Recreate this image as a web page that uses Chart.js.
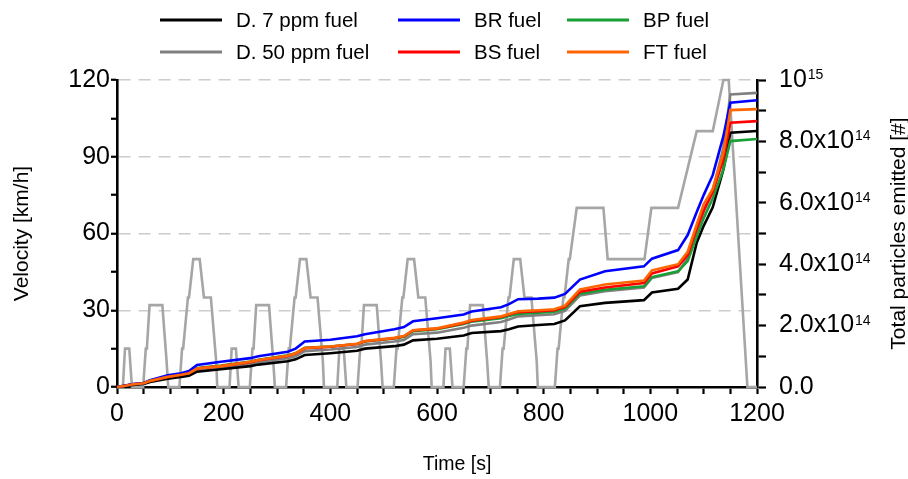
<!DOCTYPE html>
<html>
<head>
<meta charset="utf-8">
<script src="https://cdn.jsdelivr.net/npm/chart.js@4.4.1/dist/chart.umd.min.js"></script>
<style>
  html, body { margin: 0; padding: 0; background: #fff; }
  #wrap { width: 908px; height: 479px; }
</style>
</head>
<body>
<div id="wrap"><canvas id="chart" width="908" height="479"></canvas></div>
<script>
// driving cycle speed trace, km/h (left axis)
const velocityTime = [
  0, 11, 15, 23, 28, 49, 54, 56, 61, 85, 93, 96, 117, 122, 124, 133, 135, 143, 155, 163, 176, 186, 188,
  211, 215, 223, 228, 249, 254, 256, 261, 285, 293, 296, 317, 322, 324, 333, 335, 343, 355, 363, 376, 386, 388,
  413, 417, 425, 430, 451, 456, 458, 463, 487, 495, 498, 519, 524, 526, 535, 537, 545, 557, 565, 578, 588, 590,
  612, 616, 624, 629, 650, 655, 657, 662, 686, 694, 697, 718, 723, 725, 734, 736, 744, 756, 764, 777, 787, 789,
  821, 826, 828, 837, 839, 847, 849, 862, 912, 920, 989, 1002, 1052, 1087, 1117, 1137, 1147, 1182, 1200
];
const velocitySpeed = [
  0, 0, 15, 15, 0, 0, 15, 15, 32, 32, 10, 0, 0, 15, 15, 35, 35, 50, 50, 35, 35, 10, 0,
  0, 15, 15, 0, 0, 15, 15, 32, 32, 10, 0, 0, 15, 15, 35, 35, 50, 50, 35, 35, 10, 0,
  0, 15, 15, 0, 0, 15, 15, 32, 32, 10, 0, 0, 15, 15, 35, 35, 50, 50, 35, 35, 10, 0,
  0, 15, 15, 0, 0, 15, 15, 32, 32, 10, 0, 0, 15, 15, 35, 35, 50, 50, 35, 35, 10, 0,
  0, 15, 15, 35, 35, 50, 50, 70, 70, 50, 50, 70, 70, 100, 100, 120, 120, 0, 0
];

// cumulative particle number, units of 10^14 (right axis)
const particleTime = [
  0, 15, 30, 50, 62, 95, 120, 135, 150, 195, 250, 265, 320, 335, 352, 400, 450, 465, 520, 538, 555,
  600, 650, 665, 720, 735, 752, 790, 820, 840, 868, 915, 988, 1003, 1052, 1070, 1087, 1100, 1117, 1137, 1150, 1200
];
const diesel7 = [
  0, 0.03, 0.07, 0.1, 0.16, 0.27, 0.33, 0.37, 0.5, 0.58, 0.68, 0.73, 0.84, 0.9, 1.04, 1.1, 1.18, 1.25, 1.33, 1.38, 1.52,
  1.57, 1.68, 1.76, 1.82, 1.88, 1.97, 2.02, 2.05, 2.17, 2.63, 2.74, 2.83, 3.08, 3.2, 3.5, 4.7, 5.25, 5.85, 7.09, 8.28, 8.34
];
const brFuel = [
  0, 0.05, 0.1, 0.13, 0.22, 0.38, 0.45, 0.52, 0.72, 0.82, 0.94, 1.0, 1.15, 1.25, 1.48, 1.54, 1.65, 1.72, 1.88, 1.95, 2.14,
  2.24, 2.36, 2.46, 2.6, 2.7, 2.86, 2.88, 2.91, 3.03, 3.5, 3.77, 3.93, 4.18, 4.46, 4.95, 5.7, 6.25, 6.9, 8.17, 9.26, 9.34
];
const bpFuel = [
  0, 0.04, 0.09, 0.12, 0.21, 0.35, 0.42, 0.47, 0.62, 0.7, 0.83, 0.89, 1.03, 1.1, 1.28, 1.32, 1.4, 1.48, 1.58, 1.63, 1.82,
  1.88, 2.05, 2.13, 2.24, 2.31, 2.38, 2.42, 2.45, 2.56, 3.04, 3.17, 3.28, 3.58, 3.77, 4.1, 4.9, 5.5, 6.15, 7.09, 8.01, 8.08
];
const diesel50 = [
  0, 0.04, 0.08, 0.11, 0.18, 0.3, 0.37, 0.41, 0.56, 0.63, 0.76, 0.81, 0.94, 1.0, 1.17, 1.22, 1.3, 1.38, 1.48, 1.53, 1.72,
  1.77, 1.93, 2.0, 2.12, 2.2, 2.3, 2.34, 2.37, 2.48, 2.98, 3.12, 3.24, 3.55, 3.74, 4.2, 5.1, 5.7, 6.4, 7.8, 9.53, 9.58
];
const bsFuel = [
  0, 0.04, 0.09, 0.12, 0.2, 0.33, 0.4, 0.45, 0.6, 0.68, 0.81, 0.87, 1.01, 1.09, 1.26, 1.31, 1.4, 1.49, 1.59, 1.65, 1.84,
  1.9, 2.08, 2.16, 2.28, 2.36, 2.44, 2.47, 2.5, 2.61, 3.1, 3.24, 3.39, 3.7, 3.93, 4.3, 5.15, 5.75, 6.35, 7.41, 8.61, 8.66
];
const ftFuel = [
  0, 0.04, 0.09, 0.12, 0.2, 0.33, 0.4, 0.45, 0.6, 0.68, 0.82, 0.88, 1.02, 1.1, 1.27, 1.32, 1.41, 1.5, 1.6, 1.66, 1.85,
  1.91, 2.1, 2.18, 2.3, 2.38, 2.47, 2.5, 2.53, 2.65, 3.18, 3.34, 3.47, 3.8, 4.0, 4.4, 5.3, 5.95, 6.45, 7.63, 9.02, 9.05
];

const FONT = '"Liberation Sans", Arial, sans-serif';
const TICK_SIZE = 25;

const toPoints = (xs, ys) => xs.map((x, i) => ({ x: x, y: ys[i] }));

function fuelSet(label, values, color, order) {
  return {
    label: label,
    data: toPoints(particleTime, values),
    yAxisID: 'y1',
    borderColor: color,
    backgroundColor: color,
    borderWidth: 2.6,
    pointRadius: 0,
    tension: 0,
    order: order,
    clip: false
  };
}

const datasets = [
  {
    label: 'Velocity',
    data: toPoints(velocityTime, velocitySpeed),
    yAxisID: 'y',
    borderColor: '#a6a6a6',
    borderWidth: 2.6,
    pointRadius: 0,
    tension: 0,
    order: 10,
    clip: false
  },
  fuelSet('D. 7 ppm fuel', diesel7, '#000000', 5),
  fuelSet('BR fuel', brFuel, '#0000ff', 2),
  fuelSet('BP fuel', bpFuel, '#17a035', 4),
  fuelSet('D. 50 ppm fuel', diesel50, '#808080', 6),
  fuelSet('BS fuel', bsFuel, '#ff0000', 3),
  fuelSet('FT fuel', ftFuel, '#ff6600', 1)
];

function drawText(ctx, text, x, y, size, angle) {
  ctx.save();
  ctx.translate(x, y);
  ctx.rotate(angle || 0);
  ctx.font = size + 'px ' + FONT;
  ctx.textAlign = 'center';
  ctx.textBaseline = 'middle';
  ctx.fillStyle = '#000';
  ctx.fillText(text, 0, 0);
  ctx.restore();
}

// legend grid, axis titles and exponents on the right axis labels
const extras = {
  id: 'extras',
  afterDraw(chart) {
    const ctx = chart.ctx;
    const area = chart.chartArea;
    const midY = (area.top + area.bottom) / 2;
    ctx.save();

    const colX = [160, 398, 567];
    const rowY = [20, 52];
    chart.data.datasets.slice(1).forEach((ds, i) => {
      const x = colX[i % 3];
      const y = rowY[Math.floor(i / 3)];
      ctx.strokeStyle = ds.borderColor;
      ctx.lineWidth = 3;
      ctx.beginPath();
      ctx.moveTo(x, y);
      ctx.lineTo(x + 62, y);
      ctx.stroke();
      ctx.fillStyle = '#000';
      ctx.font = '20.5px ' + FONT;
      ctx.textAlign = 'left';
      ctx.textBaseline = 'middle';
      ctx.fillText(ds.label, x + 76, y + 1);
    });

    const scale = chart.scales.y1;
    const opts = scale.options;
    const lx = scale.left + opts.grid.tickLength + opts.ticks.padding;
    scale.ticks.forEach(tk => {
      if (!tk.label || tk.value === 0) return;
      ctx.font = TICK_SIZE + 'px ' + FONT;
      const w = ctx.measureText(tk.label).width;
      const y = scale.getPixelForValue(tk.value);
      ctx.font = '14px ' + FONT;
      ctx.textAlign = 'left';
      ctx.textBaseline = 'alphabetic';
      ctx.fillStyle = '#000';
      ctx.fillText(tk.value === 10 ? '15' : '14', lx + w + 1, y - 1);
    });
    ctx.restore();

    drawText(ctx, 'Time [s]', 457, 465, 19.5);
    drawText(ctx, 'Velocity [km/h]', 22, midY, 21, -Math.PI / 2);
    drawText(ctx, 'Total particles emitted [#]', 899, midY, 21, -Math.PI / 2);
  }
};

new Chart(document.getElementById('chart'), {
  type: 'line',
  data: { datasets: datasets },
  options: {
    responsive: false,
    animation: false,
    devicePixelRatio: 1,
    layout: { padding: { top: 80, left: 0, right: 0, bottom: 0 } },
    plugins: { legend: { display: false }, tooltip: { enabled: false } },
    scales: {
      x: {
        type: 'linear',
        min: 0,
        max: 1200,
        afterFit: s => { s.height = 92; },
        grid: { drawOnChartArea: false, tickLength: 7, tickColor: '#000', tickWidth: 2.2 },
        border: { color: '#000', width: 2.6 },
        ticks: {
          stepSize: 50,
          autoSkip: false,
          maxRotation: 0,
          padding: 5,
          color: '#000',
          font: { family: FONT, size: TICK_SIZE },
          callback: v => (v % 200 === 0 ? String(v) : '')
        }
      },
      y: {
        position: 'left',
        min: 0,
        max: 120,
        afterFit: s => { s.width = 117; },
        grid: {
          drawOnChartArea: true,
          tickLength: 6,
          tickColor: '#000',
          tickWidth: 2.2,
          lineWidth: 1.5,
          color: c => (c.tick && c.tick.value > 0 && c.tick.value % 30 === 0 ? '#cccccc' : 'rgba(0,0,0,0)')
        },
        border: { color: '#000', width: 2.6, dash: [12, 8] },
        ticks: {
          stepSize: 15,
          autoSkip: false,
          padding: 1,
          color: '#000',
          font: { family: FONT, size: TICK_SIZE },
          callback: v => (v % 30 === 0 ? String(v) : '')
        }
      },
      y1: {
        position: 'right',
        min: 0,
        max: 10,
        afterFit: s => { s.width = 151; },
        grid: { drawOnChartArea: false, tickLength: 9, tickColor: '#000', tickWidth: 2.2 },
        border: { color: '#000', width: 2.6 },
        ticks: {
          stepSize: 1,
          autoSkip: false,
          padding: 13,
          color: '#000',
          font: { family: FONT, size: TICK_SIZE },
          callback: v => {
            if (v === 0) return '0.0';
            if (v === 10) return '10';
            return v % 2 === 0 ? v + '.0x10' : '';
          }
        }
      }
    }
  },
  plugins: [extras]
});
</script>
</body>
</html>
